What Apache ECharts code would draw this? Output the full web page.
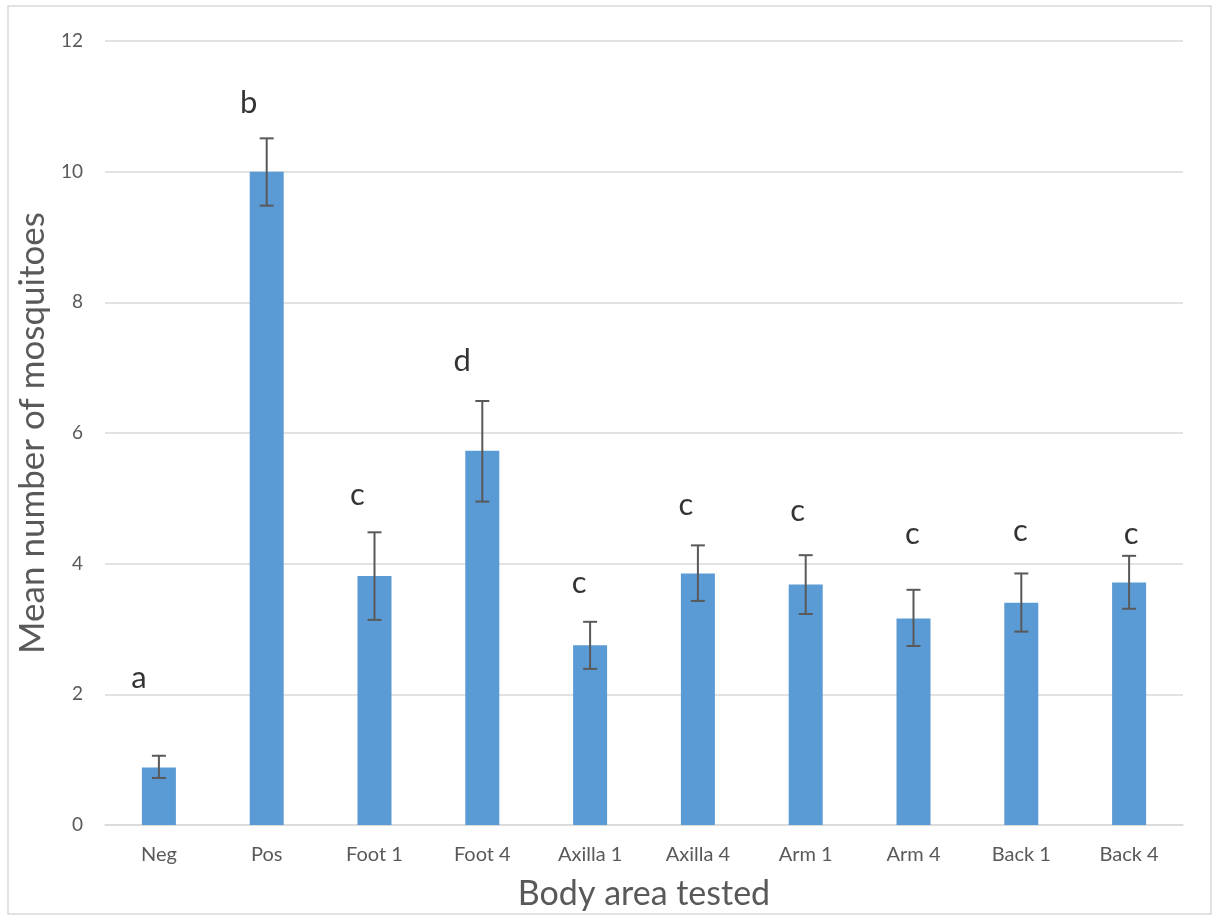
<!DOCTYPE html>
<html>
<head>
<meta charset="utf-8">
<script src="https://cdn.jsdelivr.net/npm/echarts@6/dist/echarts.min.js"></script>
<style>
html,body{margin:0;padding:0;background:#fff;}
#chart{width:1218px;height:918px;}
</style>
</head>
<body>
<div id="chart"></div>
<script>
var categories = ['Neg','Pos','Foot 1','Foot 4','Axilla 1','Axilla 4','Arm 1','Arm 4','Back 1','Back 4'];
var means      = [0.88, 10.0, 3.81, 5.73, 2.75, 3.85, 3.68, 3.16, 3.40, 3.71];
var errLow     = [0.72, 9.48, 3.14, 4.95, 2.39, 3.43, 3.23, 2.74, 2.96, 3.31];
var errHigh    = [1.06, 10.51, 4.48, 6.49, 3.11, 4.28, 4.13, 3.60, 3.85, 4.12];
var letters    = ['a','b','c','d','c','c','c','c','c','c'];
var letterY    = [2.25, 11.05, 5.05, 7.1, 3.7, 4.9, 4.8, 4.45, 4.5, 4.45];
var letterShift = [-20, -18, -17, -20, -11, -12, -8, -1, -1, 2];

var chart = echarts.init(document.getElementById('chart'), null, {renderer:'canvas'});
var font = 'Lato, "Open Sans", "Noto Sans", sans-serif';

var errData = categories.map(function(c,i){ return [i, errLow[i], errHigh[i]]; });
var letterData = categories.map(function(c,i){
  return {value:[i, letterY[i]], label:{offset:[letterShift[i],0], formatter: letters[i]}};
});

var option = {
  animation:false,
  backgroundColor:'#ffffff',
  graphic:[{type:'rect', shape:{x:8,y:6,width:1203,height:908}, style:{fill:'none', stroke:'#d9d9d9', lineWidth:1.5}, silent:true}],
  grid:{left:105, right:35, top:41, bottom:93},
  xAxis:{
    type:'category', data:categories,
    name:'Body area tested', nameLocation:'middle', nameGap:52,
    nameTextStyle:{fontFamily:font, fontSize:34, color:'#595959'},
    axisLine:{lineStyle:{color:'#d9d9d9', width:1.5}},
    axisTick:{show:false},
    axisLabel:{fontFamily:font, fontSize:20, color:'#595959', margin:20}
  },
  yAxis:{
    type:'value', min:0, max:12, interval:2,
    name:'Mean number of mosquitoes', nameLocation:'middle', nameGap:50,
    nameTextStyle:{fontFamily:font, fontSize:35, color:'#595959'},
    axisLine:{show:false}, axisTick:{show:false},
    axisLabel:{fontFamily:font, fontSize:19, color:'#595959', margin:22},
    splitLine:{lineStyle:{color:'#d9d9d9', width:1.5}}
  },
  series:[
    {type:'bar', data:means, barWidth:34, itemStyle:{color:'#5b9bd5'}, z:2},
    {type:'custom', z:3, data:errData,
      renderItem:function(params, api){
        var x = api.value(0);
        var lo = api.coord([x, api.value(1)]);
        var hi = api.coord([x, api.value(2)]);
        var hw = 7;
        var st = {stroke:'#595959', lineWidth:2};
        return {type:'group', children:[
          {type:'line', shape:{x1:lo[0],y1:lo[1],x2:hi[0],y2:hi[1]}, style:st},
          {type:'line', shape:{x1:lo[0]-hw,y1:lo[1],x2:lo[0]+hw,y2:lo[1]}, style:st},
          {type:'line', shape:{x1:hi[0]-hw,y1:hi[1],x2:hi[0]+hw,y2:hi[1]}, style:st}
        ]};
      }
    },
    {type:'scatter', symbolSize:0, z:4, data:letterData,
      label:{show:true, position:'inside', fontFamily:font, fontSize:31, color:'#000000'}
    }
  ]
};
chart.setOption(option);
</script>
</body>
</html>
